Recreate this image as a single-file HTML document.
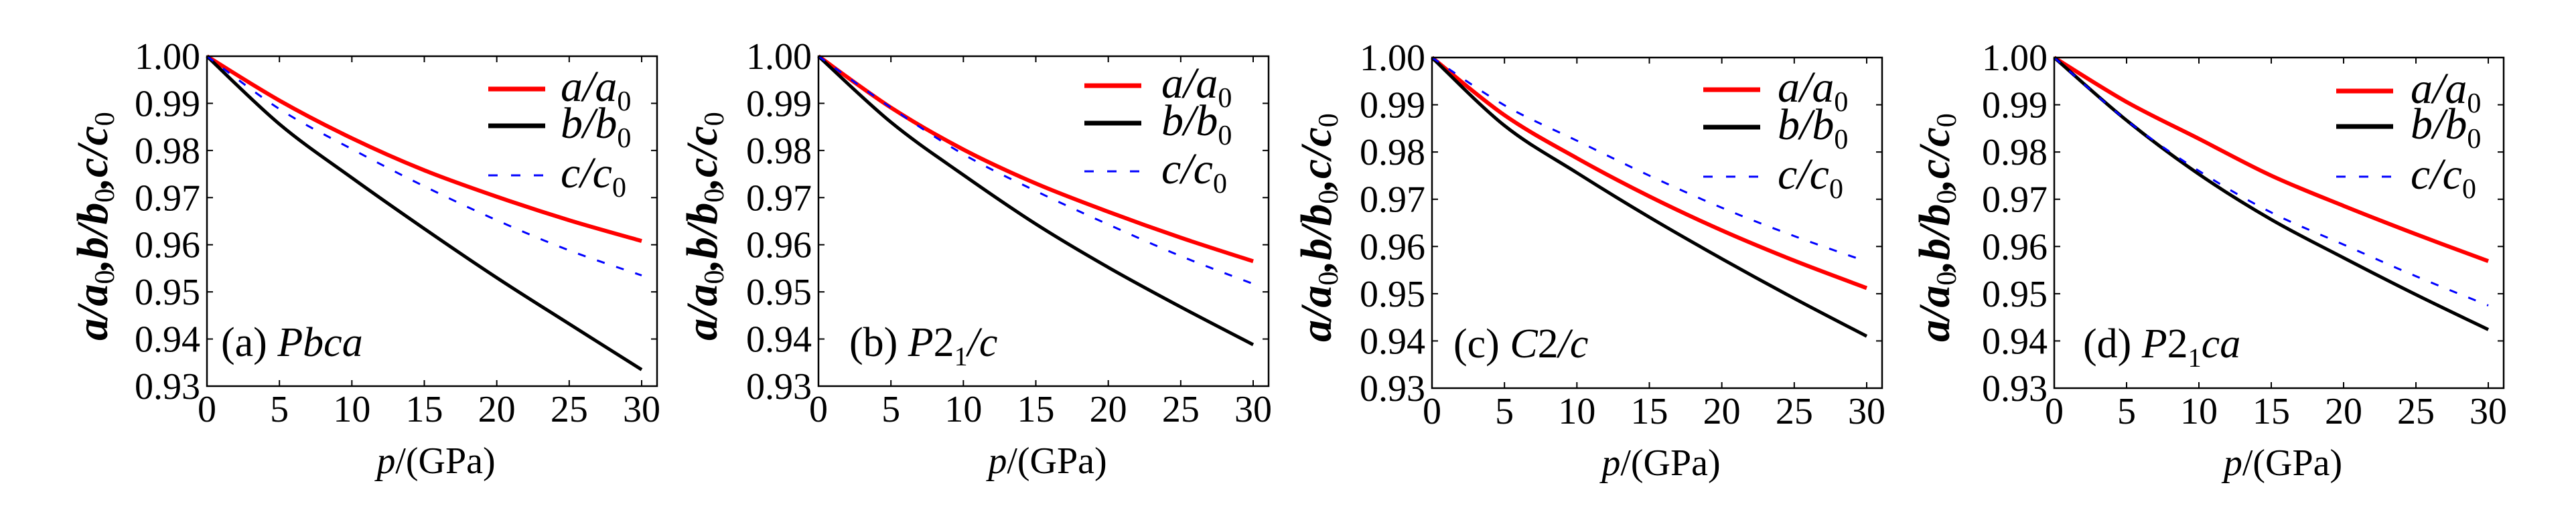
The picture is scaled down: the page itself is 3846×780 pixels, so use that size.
<!DOCTYPE html>
<html><head><meta charset="utf-8"><style>
html,body{margin:0;padding:0;background:#fff;}
svg{display:block;}
text{font-family:"Liberation Serif","DejaVu Serif",serif;}
</style></head><body>
<svg id="fig" width="3846" height="780" viewBox="0 0 3846 780" xmlns="http://www.w3.org/2000/svg"></svg>
<script>
const pressures = [0, 5, 10, 15, 20, 25, 30];
const xTicks = [0, 5, 10, 15, 20, 25, 30];
const yTicks = [1.00, 0.99, 0.98, 0.97, 0.96, 0.95, 0.94, 0.93];
const yTickLabels = ["1.00","0.99","0.98","0.97","0.96","0.95","0.94","0.93"];
const panelNames = ["a", "b", "c", "d"];
const aPbca   = [1, 0.9906, 0.9826, 0.9758, 0.9702, 0.9652, 0.9608];
const bPbca   = [1, 0.9856, 0.9742, 0.9634, 0.9530, 0.9432, 0.9335];
const cPbca   = [1, 0.9888, 0.9803, 0.9724, 0.9652, 0.9588, 0.9535];
const aP21c   = [1, 0.9891, 0.9802, 0.9730, 0.9670, 0.9615, 0.9565];
const bP21c   = [1, 0.9860, 0.9748, 0.9644, 0.9552, 0.9468, 0.9388];
const cP21c   = [1, 0.9891, 0.9792, 0.9714, 0.9643, 0.9576, 0.9517];
const aC2c    = [1, 0.9878, 0.9787, 0.9706, 0.9634, 0.9570, 0.9512];
const bC2c    = [1, 0.9856, 0.9756, 0.9662, 0.9574, 0.9490, 0.9410];
const cC2c    = [1, 0.9899, 0.9824, 0.9750, 0.9682, 0.9622, 0.9568];
const aP21ca  = [1, 0.9906, 0.9828, 0.9750, 0.9686, 0.9626, 0.9569];
const bP21ca  = [1, 0.9867, 0.9753, 0.9657, 0.9576, 0.9498, 0.9424];
const cP21ca  = [1, 0.9867, 0.9760, 0.9672, 0.9604, 0.9537, 0.9475];

const NS = "http://www.w3.org/2000/svg";
const svg = document.getElementById("fig");
const FONT = '"Liberation Serif","DejaVu Serif",serif';
function mk(tag, attrs, parent) {
  const e = document.createElementNS(NS, tag);
  for (const k in attrs) e.setAttribute(k, attrs[k]);
  if (tag === "text") e.setAttribute("font-family", FONT);
  (parent || svg).appendChild(e);
  return e;
}
const panels = [
  {L:309, R:981, T:84, B:577, series:[aPbca,bPbca,cPbca], legLine:729, legText:837, legY:[133,188,262], lab:330, ylab:138, title:[["(a) ",false],["Pbca",true]]},
  {L:1222, R:1894, T:84, B:577, series:[aP21c,bP21c,cP21c], legLine:1619, legText:1734, legY:[128,184,256], lab:1268, ylab:1048, title:[["(b) ",false],["P",true],["2",false],["1",false,true],["/c",true]]},
  {L:2138, R:2810, T:86, B:580, series:[aC2c,bC2c,cC2c], legLine:2543, legText:2654, legY:[134,190,264], lab:2170, ylab:1965, title:[["(c) ",false],["C",true],["2",false],["/c",true]]},
  {L:3067, R:3738, T:86, B:580, series:[aP21ca,bP21ca,cP21ca], legLine:3488, legText:3599, legY:[136,189,264], lab:3110, ylab:2888, title:[["(d) ",false],["P",true],["2",false],["1",false,true],["ca",true]]}
];
const colors = ["#ff0000","#000000","#0000ff"];
const widths = [6,5,3];
const legNames = [["a","a"],["b","b"],["c","c"]];

panels.forEach((p, pi) => {
  const g = mk("g", {});
  
  
  const xEnd = p.L + (p.R - p.L) * (958 - 309) / (981 - 309);
  const sx = v => p.L + (v / 30) * (xEnd - p.L);
  const sy = v => p.T + (1 - v) / 0.07 * (p.B - p.T);

  p.series.forEach((vals, si) => {
    const pts = pressures.map((x, i) => [sx(x), sy(vals[i])]);
    let d = "M" + pts[0][0] + "," + pts[0][1];
    for (let i = 0; i < pts.length - 1; i++) {
      const p0 = pts[Math.max(0, i - 1)], p1 = pts[i], p2 = pts[i + 1], p3 = pts[Math.min(pts.length - 1, i + 2)];
      const c1 = [p1[0] + (p2[0] - p0[0]) / 6, p1[1] + (p2[1] - p0[1]) / 6];
      const c2 = [p2[0] - (p3[0] - p1[0]) / 6, p2[1] - (p3[1] - p1[1]) / 6];
      d += " C" + c1[0] + "," + c1[1] + " " + c2[0] + "," + c2[1] + " " + p2[0] + "," + p2[1];
    }
    const path = mk("path", {d: d, fill: "none", stroke: colors[si], "stroke-width": widths[si]}, g);
    if (si === 2) path.setAttribute("stroke-dasharray", "12 18");
    
    
  });

  const frame = mk("rect", {x: p.L, y: p.T, width: p.R - p.L, height: p.B - p.T, fill: "none", stroke: "#000", "stroke-width": 2.5}, g);
  
  

  xTicks.forEach(t => {
    const x = sx(t);
    mk("line", {x1: x, x2: x, y1: p.B, y2: p.B - 9, stroke: "#000", "stroke-width": 2}, g);
    mk("line", {x1: x, x2: x, y1: p.T, y2: p.T + 9, stroke: "#000", "stroke-width": 2}, g);
    const tx = mk("text", {x: x, y: p.B + 53, "font-size": 56, "text-anchor": "middle"}, g);
    tx.textContent = String(t);
    
    
  });
  yTicks.forEach((t, i) => {
    const y = sy(t);
    mk("line", {x1: p.L, x2: p.L + 9, y1: y, y2: y, stroke: "#000", "stroke-width": 2}, g);
    mk("line", {x1: p.R, x2: p.R - 9, y1: y, y2: y, stroke: "#000", "stroke-width": 2}, g);
    const ty = mk("text", {x: p.L - 10, y: y + 19, "font-size": 56, "text-anchor": "end"}, g);
    ty.textContent = yTickLabels[i];
    
    
  });

  const xt = mk("text", {x: (p.L + p.R) / 2 + 6, y: p.B + 130, "font-size": 56, "text-anchor": "middle"}, g);
  
  
  const t1 = mk("tspan", {"font-style": "italic"}, xt); t1.textContent = "p";
  const t2 = mk("tspan", {}, xt); t2.textContent = "/(GPa)";

  const yt = mk("text", {transform: "translate(" + (p.ylab + 22) + "," + (p.T + 254) + ") rotate(-90)", "font-size": 66, "font-weight": "bold", "font-style": "italic", "text-anchor": "middle"}, g);
  
  
  [["a/a"],["0",1],[",b/b"],["0",1],[",c/c"],["0",1]].forEach(s => {
    const ts = mk("tspan", {}, yt);
    if (s[1]) { ts.setAttribute("font-size", 42); ts.setAttribute("dy", 10); ts.setAttribute("font-style","normal"); ts.setAttribute("font-weight","normal"); }
    else if (yt.childNodes.length > 1) ts.setAttribute("dy", -10);
    ts.textContent = s[0];
  });

  legNames.forEach((n, si) => {
    const y = p.legY[si];
    const ln = mk("line", {x1: p.legLine, x2: p.legLine + 85, y1: y, y2: y, stroke: colors[si], "stroke-width": si === 2 ? 3 : 7}, g);
    if (si === 2) ln.setAttribute("stroke-dasharray", "14 20");
    
    
    const lt = mk("text", {x: p.legText, y: y + 18, "font-size": 66, "font-style": "italic"}, g);
    
    
    const a = mk("tspan", {}, lt); a.textContent = n[0] + "/" + n[1];
    const b = mk("tspan", {"font-size": 42, dy: 14, "font-style": "normal"}, lt); b.textContent = "0";
  });

  const pl = mk("text", {x: p.lab, y: p.T + 448, "font-size": 62}, g);
  
  
  p.title.forEach(s => {
    const ts = mk("tspan", {}, pl);
    if (s[1]) ts.setAttribute("font-style", "italic");
    if (s[2]) { ts.setAttribute("font-size", 40); ts.setAttribute("dy", 14); }
    else if (pl.childNodes.length > 1 && pl.childNodes[pl.childNodes.length - 2].getAttribute("dy") === "14") ts.setAttribute("dy", -14);
    ts.textContent = s[0];
  });
});
</script>
</body></html>
